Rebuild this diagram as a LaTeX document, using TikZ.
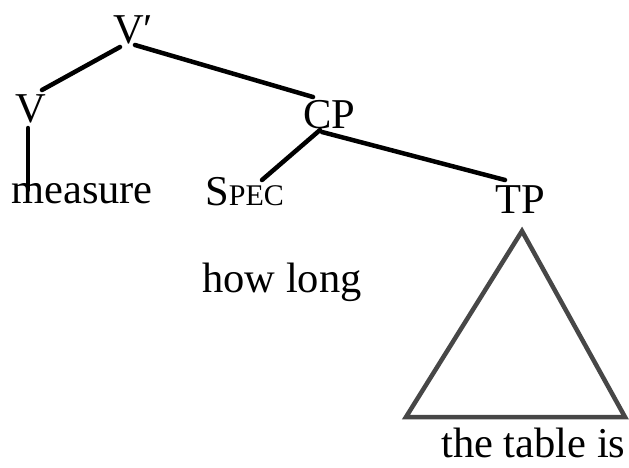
\documentclass[tikz,border=0pt]{standalone}
\usepackage{fontspec}
\setmainfont{Liberation Serif}
\begin{document}
\begin{tikzpicture}[x=1pt,y=-1pt,
  lbl/.style={inner sep=0pt,anchor=base west,font=\fontsize{42.5}{50}\selectfont},
  edge/.style={line width=4.5pt,line cap=round},
  tri/.style={draw=black!72,line width=4.5pt,line join=miter}]
\useasboundingbox (0,0) rectangle (629,467);
\node[lbl] (vbar) at (113,43) {V′};
\node[lbl] (v) at (15,122) {V};
\node[lbl] (meas) at (11,203) {measure};
\node[lbl] (spec) at (205,205) {S{\fontsize{30}{36}\selectfont PEC}};
\node[lbl] (cp) at (303,128) {CP};
\node[lbl] (tp) at (495,213) {TP};
\node[lbl] (howlong) at (202,292) {how long};
\node[lbl] (table) at (441,457) {the table is};
\draw[edge] ([shift={(7,4)}]vbar.base west) -- ([shift={(27,-32)}]v.base west);
\draw[edge] ([shift={(22,2)}]vbar.base west) -- ([shift={(10,-31)}]cp.base west);
\draw[edge] ([shift={(13,6)}]v.base west) -- ([shift={(17,-13)}]meas.base west);
\draw[edge] ([shift={(17,2)}]cp.base west) -- ([shift={(57,-25)}]spec.base west);
\draw[edge] ([shift={(19,4)}]cp.base west) -- ([shift={(10,-33)}]tp.base west);
\coordinate (apex) at (522,231);
\coordinate (bl) at (406,417);
\coordinate (br) at (625,417);
\draw[tri] (apex) -- (bl) -- (br) -- cycle;
\end{tikzpicture}
\end{document}
